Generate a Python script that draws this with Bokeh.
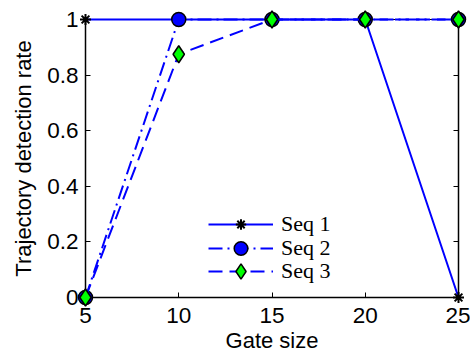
from bokeh.plotting import figure
from bokeh.models import LinearAxis, Legend, LegendItem, Range1d, FixedTicker
from bokeh.embed import file_html
from bokeh.resources import INLINE

gate_size = [5, 10, 15, 20, 25]
seq1 = [1, 1, 1, 1, 0]
seq2 = [0, 1, 1, 1, 1]
seq3 = [0, 0.875, 1, 1, 1]
series_labels = ["Seq 1", "Seq 2", "Seq 3"]
x_ticks = [5, 10, 15, 20, 25]
y_ticks = [0, 0.2, 0.4, 0.6, 0.8, 1]
y_tick_labels = {0: "0", 0.2: "0.2", 0.4: "0.4", 0.6: "0.6", 0.8: "0.8", 1: "1"}

FONT = "Liberation Sans"
SERIF = "Liberation Serif"

p = figure(width=470, height=356, output_backend="svg", toolbar_location=None,
           x_range=Range1d(5, 25), y_range=Range1d(0, 1),
           min_border_left=85, min_border_top=19, min_border_bottom=59, min_border_right=12)
p.xgrid.visible = False
p.ygrid.visible = False
p.outline_line_color = "black"
p.outline_line_width = 1
p.background_fill_color = "white"
p.border_fill_color = "white"

# right axis (ticks only)
p.add_layout(LinearAxis(), "right")

for ax in p.axis:
    ax.axis_line_color = "black"
    ax.axis_line_width = 1.5
    ax.major_tick_in = 5
    ax.major_tick_out = 0
    ax.major_tick_line_color = "black"
    ax.major_tick_line_width = 1
    ax.minor_tick_line_color = None
    ax.major_label_text_font = FONT
    ax.major_label_text_font_size = "22.5px"
    ax.major_label_text_color = "black"

p.xaxis.ticker = FixedTicker(ticks=x_ticks)
p.yaxis.ticker = FixedTicker(ticks=y_ticks)
p.yaxis.major_label_overrides = y_tick_labels
p.right[0].major_label_text_color = None
p.right[0].major_label_text_alpha = 0
p.right[0].major_label_standoff = 0

p.xaxis[0].axis_label = "Gate size"
p.yaxis[0].axis_label = "Trajectory detection rate"
for ax in (p.xaxis[0], p.yaxis[0]):
    ax.axis_label_text_font = FONT
    ax.axis_label_text_font_size = "22px"
    ax.axis_label_text_font_style = "normal"
    ax.axis_label_text_color = "black"
p.xaxis[0].major_label_standoff = 10
p.xaxis[0].axis_label_standoff = 2
p.yaxis[0].major_label_standoff = 7
p.yaxis[0].axis_label_standoff = 8

BLUE = "#0000ff"
l1 = p.line(gate_size, seq1, line_color=BLUE, line_width=2, level="overlay")
m1 = p.scatter(gate_size, seq1, marker="asterisk", size=11, line_color="black", line_width=2, level="overlay")
l2 = p.line(gate_size, seq2, line_color=BLUE, line_width=2, line_dash="14 5 2 5", level="overlay")
m2 = p.scatter(gate_size, seq2, marker="circle", size=14, fill_color=BLUE, line_color="black", line_width=1.5, level="overlay")
l3 = p.line(gate_size, seq3, line_color=BLUE, line_width=2, line_dash="14 7", level="overlay")
m3 = p.scatter(gate_size, seq3, marker="diamond", size=17, fill_color="#00ff00", line_color="black", line_width=1.5, level="overlay")

# one legend per row so that legend markers keep their size while rows stay close
rows = [(series_labels[0], [l1, m1], 53, 26),
        (series_labels[1], [l2, m2], 29, 34),
        (series_labels[2], [l3, m3], 6, 38)]
for label, rends, y_off, gh in rows:
    lg = Legend(items=[LegendItem(label=label, renderers=rends)], location=(123, y_off + (40 - gh) // 2))
    lg.background_fill_alpha = 0
    lg.border_line_color = None
    lg.padding = 0
    lg.margin = 0
    lg.spacing = 0
    lg.glyph_width = 65
    lg.glyph_height = gh
    lg.label_height = gh
    lg.label_standoff = 8
    lg.label_text_font = SERIF
    lg.label_text_font_size = "22px"
    lg.label_text_line_height = 1.0
    lg.label_text_color = "black"
    p.add_layout(lg, "center")

open("out.html", "w").write(file_html(p, INLINE))
